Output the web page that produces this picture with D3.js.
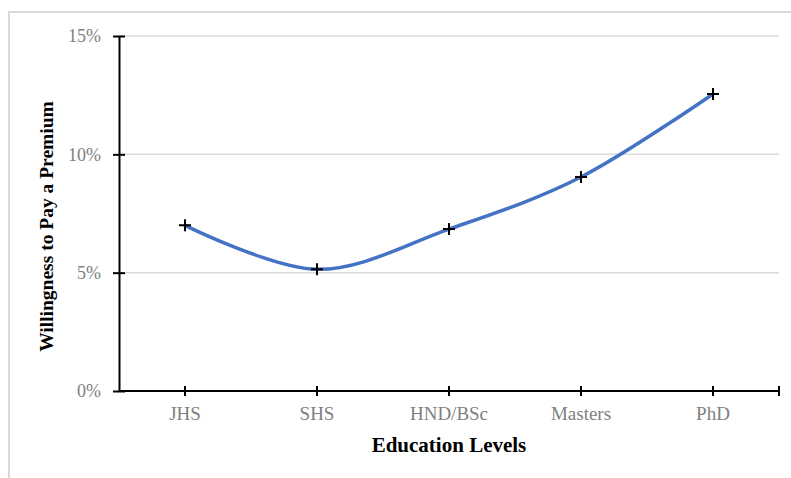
<!DOCTYPE html>
<html>
<head>
<meta charset="utf-8">
<script src="https://cdn.jsdelivr.net/npm/d3@7"></script>
<style>
  html, body { margin: 0; padding: 0; background: #fff; }
  svg { display: block; }
</style>
</head>
<body>
<svg id="chart" width="791" height="478"></svg>
<script>
// Willingness to pay a premium, by education level
const categories = ["JHS", "SHS", "HND/BSc", "Masters", "PhD"];
const premiumValues = [0.070, 0.0514, 0.0684, 0.0904, 0.1255];
const yTickValues = [0, 0.05, 0.10, 0.15];

const svg = d3.select("#chart");
const W = 791, H = 478;
const margin = { left: 119, right: 12, top: 36, bottom: 87 };
const x0 = margin.left, x1 = W - margin.right;
const yTop = margin.top, yBot = H - margin.bottom;

const font = "'Liberation Serif', 'DejaVu Serif', serif";

// outer frame
svg.append("rect")
  .attr("x", 9).attr("y", 12)
  .attr("width", W + 10).attr("height", H)
  .attr("fill", "#fff")
  .attr("stroke", "#d9d9d9").attr("stroke-width", 2);

const x = d3.scaleBand().domain(categories).range([x0, x1]).paddingInner(0).paddingOuter(0);
const y = d3.scaleLinear().domain([0, 0.15]).range([yBot, yTop]);

// gridlines
svg.append("g")
  .selectAll("line")
  .data(yTickValues.filter(d => d > 0))
  .join("line")
  .attr("x1", x0).attr("x2", x1)
  .attr("y1", d => y(d)).attr("y2", d => y(d))
  .attr("stroke", "#d9d9d9").attr("stroke-width", 1.5);

// y axis
const yAxis = d3.axisLeft(y).tickValues(yTickValues).tickFormat(d3.format(".0%"))
  .tickSizeInner(6).tickSizeOuter(0).tickPadding(12);
const gy = svg.append("g").attr("transform", `translate(${x0},0)`).call(yAxis);
gy.select(".domain").attr("stroke", "#000").attr("stroke-width", 2);
gy.selectAll(".tick line").attr("stroke", "#000").attr("stroke-width", 2).attr("x2", 6).attr("x1", -6);
gy.selectAll(".tick text").attr("fill", "#808080").attr("font-family", font).attr("font-size", 18);

// x axis (ticks at category centres plus the right end)
const gx = svg.append("g").attr("transform", `translate(0,${yBot})`);
gx.append("line").attr("x1", x0).attr("x2", x1).attr("y1", 0).attr("y2", 0)
  .attr("stroke", "#000").attr("stroke-width", 2);
const xTickPos = categories.map(c => x(c) + x.bandwidth() / 2).concat([x1]);
gx.selectAll("line.tick").data(xTickPos).join("line").attr("class", "tick")
  .attr("x1", d => d).attr("x2", d => d).attr("y1", -5).attr("y2", 5)
  .attr("stroke", "#000").attr("stroke-width", 2);
gx.selectAll("text").data(categories).join("text")
  .attr("x", d => x(d) + x.bandwidth() / 2).attr("y", 29)
  .attr("text-anchor", "middle")
  .attr("fill", "#808080").attr("font-family", font).attr("font-size", 19)
  .text(d => d);

// axis titles
svg.append("text")
  .attr("x", (x0 + x1) / 2).attr("y", 452)
  .attr("text-anchor", "middle")
  .attr("font-family", font).attr("font-weight", "bold").attr("font-size", 21)
  .attr("fill", "#000")
  .text("Education Levels");
svg.append("text")
  .attr("transform", `translate(53,${(yTop + yBot) / 2 + 13}) rotate(-90)`)
  .attr("text-anchor", "middle")
  .attr("font-family", font).attr("font-weight", "bold").attr("font-size", 19.5)
  .attr("fill", "#000")
  .text("Willingness to Pay a Premium");

// smoothed series line
const pts = categories.map((c, i) => [x(c) + x.bandwidth() / 2, y(premiumValues[i])]);
svg.append("path")
  .attr("d", d3.line().curve(d3.curveCatmullRom.alpha(0))(pts))
  .attr("fill", "none").attr("stroke", "#4472C4").attr("stroke-width", 3.5)
  .attr("stroke-linecap", "round");

// plus markers
const m = svg.append("g");
pts.forEach(([px, py]) => {
  m.append("path")
    .attr("d", `M${px - 6},${py}H${px + 6}M${px},${py - 6}V${py + 6}`)
    .attr("stroke", "#000").attr("stroke-width", 2);
});
</script>
</body>
</html>
